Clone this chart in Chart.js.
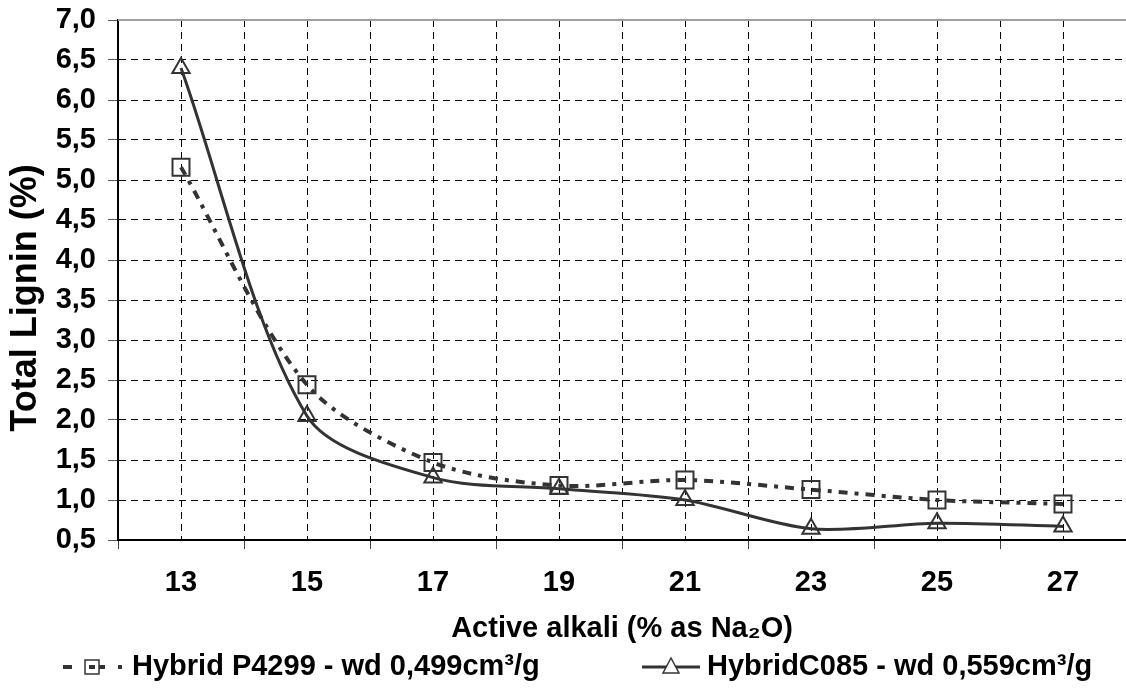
<!DOCTYPE html>
<html>
<head>
<meta charset="utf-8">
<script src="https://cdn.jsdelivr.net/npm/chart.js@4/dist/chart.umd.min.js"></script>
<style>
  body { margin: 0; background: #fff; }
  #wrap { position: relative; width: 1126px; height: 698px; }
</style>
</head>
<body>
<div id="wrap"><canvas id="chart-lignin"></canvas></div>
<script>
const alkali = [13, 15, 17, 19, 21, 23, 25, 27];
const ligninP4299 = [5.16, 2.44, 1.47, 1.18, 1.25, 1.13, 1.00, 0.95];
const ligninC085 = [6.40, 2.05, 1.28, 1.14, 1.00, 0.64, 0.71, 0.67];
const seriesNames = ['Hybrid P4299 - wd 0,499cm³/g', 'HybridC085 - wd 0,559cm³/g'];
const yTitle = 'Total Lignin (%)';

const ink = '#333';
const dashDot = [9, 7, 4, 7];
const fontFamily = 'Liberation Sans, Arial, sans-serif';
const boldText = { family: fontFamily, size: 29, weight: 'bold' };

const toPoints = (ys) => alkali.map((x, i) => ({ x: x, y: ys[i] }));
const comma = (v) => v.toFixed(1).replace('.', ',');

// grey frame line along the top, the rotated y title and the series key
const extras = {
    id: 'extras',
    afterDraw(chart) {
        const ctx = chart.ctx;
        const area = chart.chartArea;

        ctx.save();
        ctx.strokeStyle = '#a0a0a0';
        ctx.lineWidth = 2;
        ctx.beginPath();
        ctx.moveTo(area.left, area.top);
        ctx.lineTo(area.right, area.top);
        ctx.stroke();

        ctx.save();
        ctx.translate(26, 298);
        ctx.rotate(-Math.PI / 2);
        ctx.fillStyle = '#000';
        ctx.font = 'bold 36px ' + fontFamily;
        ctx.textAlign = 'center';
        ctx.textBaseline = 'middle';
        ctx.fillText(yTitle, 0, 0);
        ctx.restore();

        const y = 667;
        ctx.strokeStyle = ink;

        // dash-dot sample with square marker
        ctx.lineWidth = 4;
        ctx.setLineDash([9, 13, 4, 7]);
        ctx.beginPath();
        ctx.moveTo(63, y);
        ctx.lineTo(127, y);
        ctx.stroke();
        ctx.setLineDash([]);
        ctx.lineWidth = 1.5;
        ctx.fillStyle = '#fff';
        ctx.fillRect(85, y - 7, 14, 14);
        ctx.strokeRect(85, y - 7, 14, 14);
        ctx.fillStyle = ink;
        ctx.fillRect(89, y - 2, 6, 4);

        // solid sample with triangle marker
        ctx.lineWidth = 3;
        ctx.beginPath();
        ctx.moveTo(642, y);
        ctx.lineTo(700, y);
        ctx.stroke();
        ctx.lineWidth = 1.5;
        ctx.fillStyle = '#fff';
        ctx.beginPath();
        ctx.moveTo(671, y - 9);
        ctx.lineTo(679, y + 6);
        ctx.lineTo(663, y + 6);
        ctx.closePath();
        ctx.fill();
        ctx.stroke();

        ctx.fillStyle = '#000';
        ctx.font = 'bold 29px ' + fontFamily;
        ctx.textBaseline = 'middle';
        ctx.textAlign = 'left';
        ctx.fillText(seriesNames[0], 132, y);
        ctx.fillText(seriesNames[1], 707, y);
        ctx.restore();
    }
};

new Chart(document.getElementById('chart-lignin'), {
    type: 'line',
    data: {
        datasets: [{
            label: seriesNames[0],
            data: toPoints(ligninP4299),
            borderColor: ink,
            borderWidth: 4,
            borderDash: dashDot,
            tension: 0.3,
            pointStyle: 'rect',
            pointRadius: 12,
            pointBorderWidth: 2,
            pointBorderColor: ink,
            pointBackgroundColor: 'transparent',
        }, {
            label: seriesNames[1],
            data: toPoints(ligninC085),
            borderColor: ink,
            borderWidth: 3,
            tension: 0.3,
            pointStyle: 'triangle',
            pointRadius: 10,
            pointBorderWidth: 2,
            pointBorderColor: ink,
            pointBackgroundColor: 'transparent',
        }],
    },
    options: {
        responsive: true,
        maintainAspectRatio: false,
        animation: false,
        layout: {
            autoPadding: false,
            padding: { top: 20, right: 0, left: 0, bottom: 0 },
        },
        plugins: {
            legend: { display: false },
            tooltip: { enabled: false },
        },
        scales: {
            x: {
                type: 'linear',
                min: 12,
                max: 28,
                // the closing gridline sits on the canvas edge, so drop that tick
                afterBuildTicks: (scale) => {
                    scale.ticks = scale.ticks.filter((t) => t.value < 28);
                },
                afterFit: (scale) => {
                    scale.height = 158;
                    scale.paddingLeft = 0;
                    scale.paddingRight = 0;
                },
                ticks: {
                    stepSize: 1,
                    autoSkip: false,
                    maxRotation: 0,
                    padding: 17,
                    color: '#000',
                    font: boldText,
                    callback: (v) => (v % 2 === 1 ? String(v) : ''),
                },
                grid: {
                    color: '#000',
                    lineWidth: 1,
                    tickLength: 9,
                    tickWidth: 1,
                    tickColor: (c) => (c.tick && c.tick.value % 2 === 0 ? '#444' : 'transparent'),
                },
                border: { color: '#000', width: 2, dash: [7, 5] },
                title: {
                    display: true,
                    text: 'Active alkali (% as Na₂O)',
                    color: '#000',
                    font: boldText,
                    padding: { top: 4, bottom: 52 },
                },
            },
            y: {
                min: 0.5,
                max: 7,
                afterFit: (scale) => {
                    scale.width = 118;
                    scale.paddingTop = 0;
                    scale.paddingBottom = 0;
                },
                ticks: {
                    stepSize: 0.5,
                    padding: 12,
                    color: '#000',
                    font: boldText,
                    callback: (v) => comma(v),
                },
                grid: {
                    color: '#000',
                    lineWidth: 1,
                    tickLength: 10,
                    tickColor: '#555',
                },
                border: { color: '#000', width: 2, dash: [7, 5] },
            },
        },
    },
    plugins: [extras],
});
</script>
</body>
</html>
